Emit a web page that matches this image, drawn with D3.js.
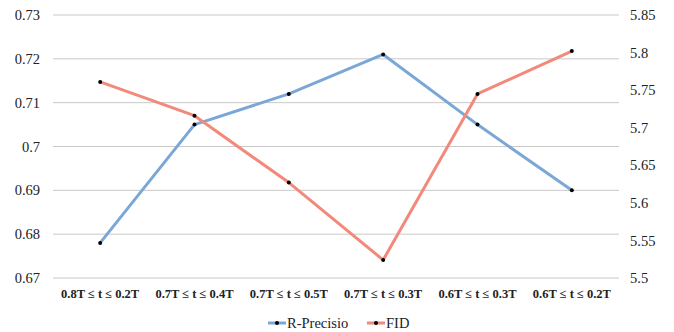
<!DOCTYPE html>
<html>
<head>
<meta charset="utf-8">
<script src="https://cdn.jsdelivr.net/npm/d3@7"></script>
<style>
  html, body { margin: 0; padding: 0; background: #fff; }
  svg { display: block; }
</style>
</head>
<body>
<svg id="chart" width="674" height="332"></svg>
<script>
const categories = ["0.8T ≤ t ≤ 0.2T", "0.7T ≤ t ≤ 0.4T", "0.7T ≤ t ≤ 0.5T", "0.7T ≤ t ≤ 0.3T", "0.6T ≤ t ≤ 0.3T", "0.6T ≤ t ≤ 0.2T"];
const rPrecision = [0.678, 0.705, 0.712, 0.721, 0.705, 0.690];
const fid = [5.761, 5.716, 5.627, 5.524, 5.745, 5.802];
const leftTicks = [0.67, 0.68, 0.69, 0.70, 0.71, 0.72, 0.73];
const rightTicks = [5.5, 5.55, 5.6, 5.65, 5.7, 5.75, 5.8, 5.85];
const seriesNames = ["R-Precisio", "FID"];
const seriesColors = ["#7ba7d7", "#f2897a"];

const svg = d3.select("#chart");
const margin = { left: 53, right: 55, top: 15, bottom: 54 };
const W = 674, H = 332;
const plotW = W - margin.left - margin.right;
const plotH = H - margin.top - margin.bottom;
const serif = "Liberation Serif";

const x = d3.scaleBand().domain(categories).range([margin.left, margin.left + plotW]);
const yL = d3.scaleLinear().domain([0.67, 0.73]).range([margin.top + plotH, margin.top]);
const yR = d3.scaleLinear().domain([5.5, 5.85]).range([margin.top + plotH, margin.top]);

// gridlines
svg.append("g").selectAll("line").data(leftTicks).join("line")
  .attr("x1", margin.left).attr("x2", margin.left + plotW)
  .attr("y1", d => yL(d)).attr("y2", d => yL(d))
  .attr("stroke", "#c9c9c9").attr("stroke-width", 1);

// left axis
const leftAxis = svg.append("g").attr("transform", `translate(${margin.left},0)`)
  .call(d3.axisLeft(yL).tickValues(leftTicks).tickSize(0).tickPadding(13).tickFormat(d => String(+d.toFixed(2))));
leftAxis.select(".domain").remove();
leftAxis.selectAll("text").attr("font-family", serif).attr("font-size", 14.5).attr("fill", "#222");

// right axis
const rightAxis = svg.append("g").attr("transform", `translate(${margin.left + plotW},0)`)
  .call(d3.axisRight(yR).tickValues(rightTicks).tickSize(0).tickPadding(11).tickFormat(d => String(+d.toFixed(2))));
rightAxis.select(".domain").remove();
rightAxis.selectAll("text").attr("font-family", serif).attr("font-size", 14.5).attr("fill", "#222");

// bottom axis
const bottomAxis = svg.append("g").attr("transform", `translate(0,${margin.top + plotH})`)
  .call(d3.axisBottom(x).tickSize(0).tickPadding(11));
bottomAxis.select(".domain").remove();
bottomAxis.selectAll("text").attr("font-family", serif).attr("font-size", 12.5)
  .attr("font-weight", "bold").attr("fill", "#222");

const cx = d => x(d) + x.bandwidth() / 2;

function drawSeries(values, yScale, color) {
  const line = d3.line().x((d, i) => cx(categories[i])).y(d => yScale(d));
  svg.append("path").datum(values).attr("d", line)
    .attr("fill", "none").attr("stroke", color).attr("stroke-width", 3)
    .attr("stroke-linejoin", "round");
  svg.append("g").selectAll("circle").data(values).join("circle")
    .attr("cx", (d, i) => cx(categories[i])).attr("cy", d => yScale(d))
    .attr("r", 2).attr("fill", "#000");
}
drawSeries(rPrecision, yL, seriesColors[0]);
drawSeries(fid, yR, seriesColors[1]);

// legend
const legendY = 323;
const legendX = [268, 367];
seriesNames.forEach((name, i) => {
  const g = svg.append("g").attr("transform", `translate(${legendX[i]},${legendY})`);
  g.append("line").attr("x1", 0).attr("x2", 18).attr("y1", 0).attr("y2", 0)
    .attr("stroke", seriesColors[i]).attr("stroke-width", 3);
  g.append("circle").attr("cx", 9).attr("cy", 0).attr("r", 2).attr("fill", "#000");
  g.append("text").attr("x", 19).attr("y", 0).attr("dy", "0.35em")
    .attr("font-family", serif).attr("font-size", 14.5).attr("fill", "#222").text(name);
});
</script>
</body>
</html>
